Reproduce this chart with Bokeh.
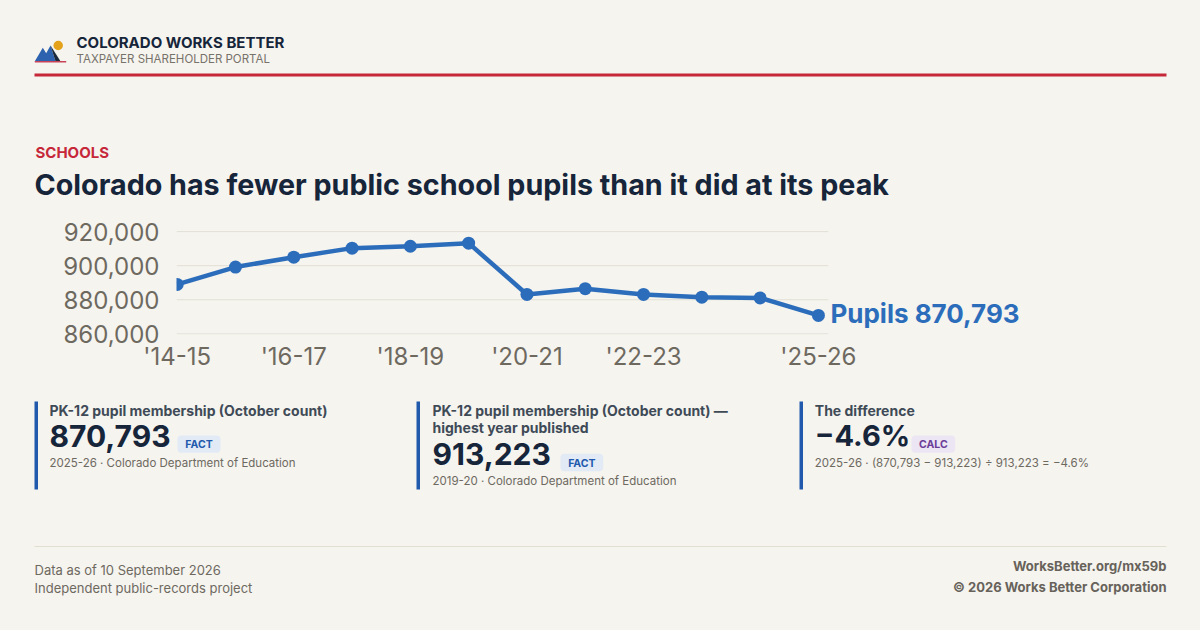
from bokeh.plotting import figure
from bokeh.layouts import column
from bokeh.models import Range1d, FixedTicker, NumeralTickFormatter, Label, ColumnDataSource
from bokeh.embed import file_html
from bokeh.resources import INLINE

# ---------------- data ----------------
years = ["2014-15", "2015-16", "2016-17", "2017-18", "2018-19", "2019-20",
         "2020-21", "2021-22", "2022-23", "2023-24", "2024-25", "2025-26"]
pupils = [889000, 899200, 905000, 910300, 911400, 913223,
          883100, 886500, 883100, 881500, 881100, 870793]
shown_years = ["2014-15", "2016-17", "2018-19", "2020-21", "2022-23", "2025-26"]
y_ticks = [860000, 880000, 900000, 920000]
series_name = "Pupils"
source_name = "Colorado Department of Education"
metric_name = "PK-12 pupil membership (October count)"

# ---------------- style ----------------
BG = "#f5f4ef"
NAVY = "#16253a"
SLATE = "#3f4a57"
GRAY = "#6e695f"
BLUE = "#2c6dbb"
CARD_BLUE = "#2159ad"
RED = "#c62839"
FONT = "Inter"
W = 1200


def base_fig(h):
    p = figure(width=W, height=h, x_range=Range1d(0, W), y_range=Range1d(h, 0),
               output_backend="svg", toolbar_location=None, min_border=0,
               x_axis_location=None, y_axis_location=None, frame_align=False,
               background_fill_color=BG, border_fill_color=BG, outline_line_color=None,
               styles={"background-color": BG})
    p.grid.visible = False
    return p


def label(p, x, y, text, size, color, weight="normal", align="left"):
    # y is the desired baseline; compensate for the renderer's baseline offset
    p.add_layout(Label(x=x, y=y - (0.3 * size + 1), text=text, text_font=FONT,
                       text_font_size=f"{size}px", text_color=color, text_font_style=weight,
                       text_align=align, text_baseline="alphabetic"))


def clabel(p, x, y, text, size, color, weight="bold"):
    p.add_layout(Label(x=x, y=y, text=text, text_font=FONT, text_font_size=f"{size}px",
                       text_color=color, text_font_style=weight, text_align="center",
                       text_baseline="middle"))


# ---------------- header ----------------
TOP_H = 212
top = base_fig(TOP_H)
top.scatter(x=[57.7], y=[45], size=9.5, color="#e3a21a", line_color=None)
top.patch(x=[34.3, 42.3, 45.7, 50, 55, 51], y=[60.7, 47.3, 52.7, 45, 60.7, 60.7], color="#2d62ae", line_color=None)
top.patch(x=[50, 60, 55], y=[45, 60.7, 60.7], color="#1a2a3c", line_color=None)
top.quad(left=34.3, right=65.7, top=60.5, bottom=62, color="#c8435a", line_color=None)
label(top, 76, 47.7, "COLORADO WORKS BETTER", 15, NAVY, "bold")
label(top, 76, 62.7, "TAXPAYER SHAREHOLDER PORTAL", 11.5, "#77726a")
top.quad(left=34, right=1166, top=73, bottom=76, color=RED, line_color=None)
label(top, 35, 157.3, "SCHOOLS", 15, RED, "bold")
label(top, 34, 193.3, "Colorado has fewer public school pupils than it did at its peak", 28.7, NAVY, "bold")

# ---------------- chart ----------------
x_end = 11.17
chart = figure(width=W, height=385 - TOP_H, x_range=Range1d(-0.012, 14.81), y_range=Range1d(859600, 923000),
               output_backend="svg", toolbar_location=None, frame_align=False,
               min_border_left=176, min_border_right=160, min_border_top=226 - TOP_H, min_border_bottom=51,
               background_fill_color=BG, border_fill_color=BG, outline_line_color=None,
               styles={"background-color": BG})
chart.segment(x0=[-0.012] * len(y_ticks), x1=[x_end] * len(y_ticks), y0=y_ticks, y1=y_ticks,
              line_color="#e2dfd5", line_width=1)
src = ColumnDataSource(dict(x=list(range(len(years))), y=pupils, year=years))
chart.line("x", "y", source=src, line_width=4.5, color=BLUE)
chart.scatter("x", "y", source=src, size=13, color=BLUE, line_color=None)

tick_idx = [years.index(s) for s in shown_years]
chart.xaxis.ticker = FixedTicker(ticks=tick_idx)
chart.xaxis.major_label_overrides = {i: "'" + years[i][2:] for i in tick_idx}
chart.yaxis.ticker = FixedTicker(ticks=y_ticks)
chart.yaxis.formatter = NumeralTickFormatter(format="0,0")
for ax in (chart.xaxis[0], chart.yaxis[0]):
    ax.axis_line_color = None
    ax.major_tick_line_color = None
    ax.minor_tick_line_color = None
    ax.major_tick_out = 0
    ax.major_tick_in = 0
    ax.major_label_text_font = FONT
    ax.major_label_text_font_size = "24px"
    ax.major_label_text_color = GRAY
chart.yaxis.major_label_standoff = 17
chart.xaxis.major_label_standoff = 7
chart.grid.visible = False
chart.add_layout(Label(x=len(years) - 1, y=pupils[-1], x_offset=12, y_offset=2,
                       text=f"{series_name} {pupils[-1]:,}", text_font=FONT, text_font_size="26px",
                       text_font_style="bold", text_color=BLUE, text_baseline="middle"))

# ---------------- cards + footer ----------------
bot = base_fig(245)
latest = pupils[-1]
peak = max(pupils)
peak_year = years[pupils.index(peak)]
diff = (latest - peak) / peak * 100
diff_txt = f"{diff:.1f}%".replace("-", "\u2212")

for lx in (34, 416, 799):
    bot.quad(left=lx, right=lx + 3.5, top=16, bottom=104, color=CARD_BLUE, line_color=None)


def badge(x0, x1, y0, y1, text, fill, color):
    bot.quad(left=x0, right=x1, top=y0, bottom=y1, color=fill, line_color=None, border_radius=4)
    clabel(bot, (x0 + x1) / 2, (y0 + y1) / 2 + 0.5, text, 10.5, color)


# card 1
label(bot, 49, 30, metric_name, 14, SLATE, "bold")
label(bot, 49, 60, f"{latest:,}", 30, NAVY, "bold")
badge(177, 220, 50, 67.3, "FACT", "#e2eaf6", CARD_BLUE)
label(bot, 49, 81.7, f"{years[-1]} \u00b7 {source_name}", 11.5, GRAY)
# card 2
label(bot, 432, 30, metric_name + " \u2014", 14, SLATE, "bold")
label(bot, 432, 47.3, "highest year published", 14, SLATE, "bold")
label(bot, 432, 78.3, f"{peak:,}", 30, NAVY, "bold")
badge(560, 602.7, 68.3, 85.7, "FACT", "#e2eaf6", CARD_BLUE)
label(bot, 432, 100, f"{peak_year} \u00b7 {source_name}", 11.5, GRAY)
# card 3
label(bot, 814.3, 30, "The difference", 14, SLATE, "bold")
label(bot, 814.3, 60, diff_txt, 29, NAVY, "bold")
badge(911, 954.7, 50, 67.3, "CALC", "#ece5f4", "#6b3d98")
label(bot, 814.3, 81.7,
      f"{years[-1]} \u00b7 ({latest:,} \u2212 {peak:,}) \u00f7 {peak:,} = {diff_txt}", 11.5, GRAY)

# footer
bot.quad(left=34, right=1166, top=160.5, bottom=161.5, color="#e2dfd0", line_color=None)
label(bot, 34, 189, "Data as of 10 September 2026", 13, GRAY)
label(bot, 34, 207.3, "Independent public-records project", 13, GRAY)
label(bot, 1166, 185.7, "WorksBetter.org/mx59b", 13, "#67625a", "bold", "right")
label(bot, 1166, 206.7, "\u00a9 2026 Works Better Corporation", 13, "#67625a", "bold", "right")

layout = column(top, chart, bot, spacing=0, styles={"background-color": BG})
open("out.html", "w").write(file_html(layout, INLINE))
